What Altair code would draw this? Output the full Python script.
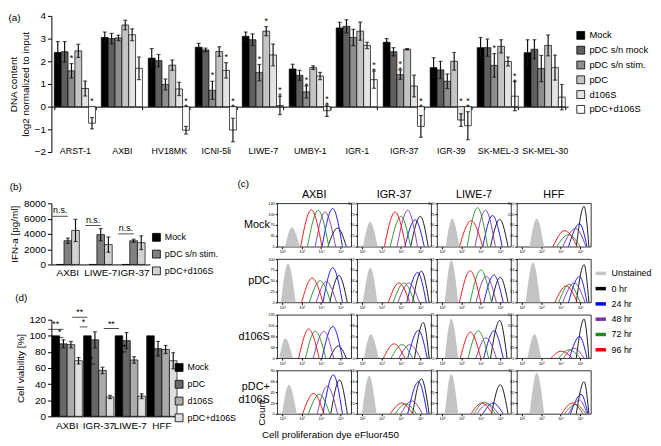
import altair as alt
import pandas as pd

FONT = "Liberation Sans"

# ---------------- panel (a) ----------------
a_groups = ["ARST-1", "AXBI", "HV18MK", "ICNI-5li", "LIWE-7", "UMBY-1",
            "IGR-1", "IGR-37", "IGR-39", "SK-MEL-3", "SK-MEL-30"]
a_series = ["Mock", "pDC s/n mock", "pDC s/n stim.", "pDC", "d106S", "pDC+d106S"]
a_colors = ["#000000", "#5f5f5f", "#8e8e8e", "#c4c4c4", "#e4e4e4", "#ffffff"]
a_values = [
    [2.39, 2.42, 1.58, 2.46, 0.80, -0.73],
    [3.05, 3.00, 3.03, 3.60, 3.17, 1.69],
    [2.14, 2.03, 0.98, 1.83, 0.78, -1.04],
    [2.62, 2.50, 0.72, 2.43, 1.60, -1.03],
    [3.10, 2.95, 1.50, 3.33, 2.28, 0.05],
    [1.66, 1.38, 0.65, 1.72, 1.35, -0.18],
    [3.47, 3.54, 3.05, 3.33, 2.70, 1.19],
    [2.84, 2.42, 1.41, 2.53, 0.91, -0.87],
    [1.72, 1.62, 1.12, 2.00, -0.59, -0.84],
    [2.60, 2.60, 1.82, 2.66, 1.99, 0.46],
    [2.38, 2.53, 1.68, 2.70, 1.72, 0.42],
]
a_errors = [
    [0.48, 0.45, 0.32, 0.29, 0.33, 0.25],
    [0.24, 0.23, 0.12, 0.21, 0.26, 0.50],
    [0.42, 0.27, 0.24, 0.23, 0.29, 0.17],
    [0.17, 0.08, 0.40, 0.21, 0.34, 0.52],
    [0.19, 0.26, 0.36, 0.20, 0.48, 0.40],
    [0.21, 0.22, 0.27, 0.08, 0.16, 0.25],
    [0.25, 0.29, 0.36, 0.40, 0.14, 0.38],
    [0.16, 0.18, 0.20, 0.03, 0.48, 0.48],
    [0.44, 0.38, 0.32, 0.39, 0.28, 0.62],
    [0.45, 0.38, 0.52, 0.29, 0.20, 0.64],
    [0.57, 0.42, 0.58, 0.46, 0.55, 0.56],
]
a_stars = [
    ["", "", "*", "", "", "*"],
    ["", "", "", "", "", ""],
    ["", "", "", "", "", "**"],
    ["", "", "*", "", "*", "**"],
    ["", "", "*", "*", "", "**"],
    ["", "", "**", "", "", "**"],
    ["", "", "", "", "", "**"],
    ["", "", "**", "", "", "**"],
    ["", "", "", "", "*", "**"],
    ["", "", "*", "", "", "**"],
    ["", "", "", "", "", ""],
]

# ---------------- panel (b) ----------------
b_groups = ["AXBI", "LIWE-7", "IGR-37"]
b_series = ["Mock", "pDC s/n stim.", "pDC+d106S"]
b_colors = ["#000000", "#808080", "#d2d2d2"]
b_values = [[0, 3100, 4450], [0, 3900, 2600], [0, 3100, 2850]]
b_errors = [[0, 350, 1450], [0, 800, 1000], [0, 200, 900]]
b_ns_y = [6300, 5100, 4000]

# ---------------- panel (d) ----------------
d_groups = ["AXBI", "IGR-37", "LIWE-7", "HFF"]
d_series = ["Mock", "pDC", "d106S", "pDC+d106S"]
d_colors = ["#000000", "#676767", "#ababab", "#dedede"]
d_values = [[100, 90, 89, 69], [100, 95, 57, 24], [100, 94, 70, 25], [100, 84, 83, 69]]
d_errors = [[0, 5, 4, 4], [0, 10, 4, 2], [0, 10, 4, 3], [0, 9, 5, 10]]
d_sig_group = ["AXBI", "AXBI", "IGR-37", "IGR-37", "IGR-37", "LIWE-7", "LIWE-7"]
d_sig_from = [1, 2, 0, 1, 2, 0, 2]
d_sig_to = [3, 3, 2, 2, 3, 2, 3]
d_sig_y = [108, 98, 123, 111, 65, 109, 80]
d_sig_label = ["**", "*", "**", "*", "*", "**", "**"]

# ---------------- panel (c) ----------------
c_cols = ["AXBI", "IGR-37", "LIWE-7", "HFF"]
c_row_titles = [["Mock"], ["pDC"], ["d106S"], ["pDC+", "d106S"]]
c_series = ["Unstained", "0 hr", "24 hr", "48 hr", "72 hr", "96 hr"]
c_colors = ["#c4c4c4", "#000000", "#0000f0", "#7d2ea8", "#1e8c1e", "#f00000"]
c_ymax = [[140, 100, 100, 160], [100, 67, 67, 85], [135, 90, 75, 140], [90, 58, 70, 110]]
# each curve: (left foot, peak, right foot, peak height as fraction of axis max), log10 units
c_curves = [
    [  # Mock
        [(2.15, 2.5, 2.9, 0.45), (4.35, 4.85, 5.3, 0.43), (4.05, 4.6, 5.1, 0.88),
         (3.7, 4.2, 4.75, 0.80), (3.3, 3.85, 4.4, 0.84), (2.95, 3.5, 4.05, 0.85)],
        [(2.05, 2.42, 2.8, 0.57), (4.5, 5.0, 5.4, 0.70), (4.2, 4.73, 5.2, 0.62),
         (3.8, 4.35, 4.85, 0.84), (3.45, 4.0, 4.5, 0.70), (3.15, 3.7, 4.25, 0.80)],
        [(2.2, 2.53, 2.9, 0.65), (4.5, 4.97, 5.4, 0.63), (4.1, 4.6, 5.1, 0.72),
         (3.7, 4.24, 4.75, 0.84), (3.3, 3.83, 4.35, 0.90), (2.9, 3.5, 4.1, 0.60)],
        [(2.4, 2.77, 3.15, 0.65), (4.8, 5.2, 5.45, 0.93), (4.4, 4.97, 5.35, 0.53),
         (4.1, 4.77, 5.3, 0.42), (3.8, 4.4, 5.0, 0.28), (3.6, 4.2, 4.85, 0.37)],
    ],
    [  # pDC
        [(1.95, 2.3, 2.7, 0.90), (4.45, 4.92, 5.35, 0.62), (4.1, 4.6, 5.1, 0.80),
         (3.75, 4.27, 4.8, 0.48), (3.4, 3.95, 4.5, 0.50), (3.0, 3.54, 4.1, 0.56)],
        [(2.05, 2.43, 2.8, 0.80), (4.6, 5.05, 5.45, 0.72), (4.3, 4.86, 5.3, 0.69),
         (3.85, 4.4, 4.95, 0.45), (3.6, 4.15, 4.7, 0.45), (3.35, 3.9, 4.45, 0.45)],
        [(2.15, 2.48, 2.85, 0.97), (4.55, 5.0, 5.4, 0.58), (4.15, 4.67, 5.15, 0.63),
         (3.75, 4.28, 4.8, 0.60), (3.45, 4.0, 4.55, 0.75), (2.9, 3.45, 4.0, 0.73)],
        [(2.2, 2.58, 2.95, 0.92), (4.8, 5.2, 5.45, 0.87), (4.4, 4.97, 5.35, 0.60),
         (4.1, 4.7, 5.25, 0.45), (3.9, 4.44, 5.0, 0.42), (3.7, 4.29, 4.85, 0.38)],
    ],
    [  # d106S
        [(1.85, 2.16, 2.55, 0.46), (4.45, 4.89, 5.3, 0.28), (4.05, 4.6, 5.1, 0.73),
         (3.6, 4.14, 4.65, 0.62), (3.2, 3.7, 4.25, 0.62), (2.85, 3.37, 3.9, 0.67)],
        [(2.1, 2.45, 2.85, 0.55), (4.7, 5.15, 5.45, 0.82), (4.35, 4.9, 5.35, 0.64),
         (3.9, 4.45, 5.0, 0.31), (3.5, 4.05, 4.6, 0.31), (3.1, 3.65, 4.2, 0.33)],
        [(2.15, 2.48, 2.85, 0.91), (4.5, 4.97, 5.35, 0.87), (4.15, 4.68, 5.15, 0.63),
         (3.75, 4.27, 4.8, 0.47), (3.35, 3.87, 4.4, 0.63), (2.95, 3.46, 4.0, 0.60)],
        [(2.3, 2.65, 3.0, 0.55), (4.8, 5.2, 5.45, 0.90), (4.45, 4.97, 5.35, 0.50),
         (4.15, 4.68, 5.2, 0.23), (3.9, 4.43, 5.0, 0.19), (3.5, 4.03, 4.6, 0.16)],
    ],
    [  # pDC+d106S
        [(2.0, 2.35, 2.75, 0.67), (4.5, 4.95, 5.35, 0.78), (4.1, 4.63, 5.1, 0.90),
         (3.8, 4.32, 4.85, 0.64), (3.35, 3.91, 4.45, 0.45), (3.05, 3.62, 4.15, 0.47)],
        [(2.0, 2.37, 2.75, 0.88), (4.6, 5.05, 5.45, 0.81), (4.35, 4.9, 5.35, 0.74),
         (4.0, 4.56, 5.1, 0.30), (3.7, 4.24, 4.8, 0.23), (3.45, 4.05, 4.6, 0.25)],
        [(2.15, 2.48, 2.85, 0.92), (4.55, 5.0, 5.4, 0.67), (4.1, 4.63, 5.15, 0.25),
         (3.8, 4.34, 4.9, 0.23), (3.65, 4.19, 4.75, 0.27), (3.5, 4.05, 4.6, 0.25)],
        [(2.4, 2.77, 3.15, 0.95), (4.8, 5.2, 5.45, 0.74), (4.5, 5.05, 5.4, 0.45),
         (4.4, 4.97, 5.35, 0.32), (4.2, 4.76, 5.3, 0.22), (4.05, 4.6, 5.15, 0.25)],
    ],
]

TXT = dict(font=FONT, color="black")

# ================= (a) =================
rows = []
for gi, g in enumerate(a_groups):
    for si, s in enumerate(a_series):
        v = a_values[gi][si]
        e = a_errors[gi][si]
        rows.append(dict(group=g, series=s, value=v, lo=v - e, hi=v + e,
                         star="\n".join(a_stars[gi][si]), stary=max(v + e, 0.0)))
dfA = pd.DataFrame(rows)

AW, AH = 524, 138
YA = [-2, 4]
z_up = AH * (0 - YA[0]) / (YA[1] - YA[0])

xA = alt.X("group:N", sort=a_groups, title=None,
           scale=alt.Scale(paddingInner=0.125, paddingOuter=0.0625),
           axis=alt.Axis(labelAngle=0, labelFontSize=9, labelOverlap=False,
                         tickBand="extent", tickSize=3, offset=-z_up,
                         labelPadding=z_up - 9))
oA = alt.XOffset("series:N", sort=a_series,
                 scale=alt.Scale(domain=a_series, paddingInner=0, paddingOuter=0))


def yA(field):
    return alt.Y(field, type="quantitative", scale=alt.Scale(domain=YA, nice=False),
                 axis=alt.Axis(values=list(range(-2, 5)),
                               title=["DNA content", "log2 normalized to input"],
                               labelFontSize=10, titleFontSize=10, tickSize=4,
                               titlePadding=4, labelPadding=2))


baseA = alt.Chart(dfA)
barsA = baseA.mark_bar(stroke="black", strokeWidth=0.7).encode(
    x=xA, xOffset=oA, y=yA("value"),
    color=alt.Color("series:N", sort=a_series,
                    scale=alt.Scale(domain=a_series, range=a_colors),
                    legend=alt.Legend(orient="none", legendX=AW + 8, legendY=15, title=None,
                                      symbolType="square", symbolSize=64,
                                      symbolStrokeColor="black", symbolStrokeWidth=0.8,
                                      labelFontSize=9.5, rowPadding=3)))
errA = baseA.mark_rule(strokeWidth=1.2, color="#111111").encode(
    x=xA, xOffset=oA, y=yA("lo"), y2="hi:Q")
capA1 = baseA.mark_tick(orient="horizontal", size=4, thickness=1.2, color="#111111").encode(
    x=xA, xOffset=oA, y=yA("hi"))
capA2 = baseA.mark_tick(orient="horizontal", size=4, thickness=1.2, color="#111111").encode(
    x=xA, xOffset=oA, y=yA("lo"))
starA = baseA.transform_filter("datum.star != ''").mark_text(
    lineBreak="\n", lineHeight=6, baseline="bottom", dy=-1, fontSize=9, **TXT).encode(
    x=xA, xOffset=oA, y=yA("stary"), text="star:N")

A = alt.layer(barsA, errA, capA1, capA2, starA).properties(
    width=AW, height=AH,
    title=alt.TitleParams("(a)", anchor="start", fontSize=10, fontWeight="normal",
                          offset=-12))

# ================= (b) =================
rows = []
for gi, g in enumerate(b_groups):
    for si, s in enumerate(b_series):
        v = b_values[gi][si]
        e = b_errors[gi][si]
        rows.append(dict(group=g, series=s, value=v, lo=v - e, hi=v + e, err=e))
dfB = pd.DataFrame(rows)
dfBns = pd.DataFrame(dict(group=b_groups, y=b_ns_y, label=["n.s."] * len(b_groups)))

BW, BH = 100, 62
B_pin, B_pout = 0.3, 0.15
B_step = BW / (len(b_groups) - B_pin + 2 * B_pout)
B_bw = B_step * (1 - B_pin) / len(b_series)

xB = alt.X("group:N", sort=b_groups, title=None,
           scale=alt.Scale(paddingInner=B_pin, paddingOuter=B_pout),
           axis=alt.Axis(labelAngle=0, labelFontSize=10, ticks=False, labelPadding=3))
oB = alt.XOffset("series:N", sort=b_series,
                 scale=alt.Scale(domain=b_series, paddingInner=0, paddingOuter=0))


def yB(field):
    return alt.Y(field, type="quantitative", scale=alt.Scale(domain=[0, 8000], nice=False),
                 axis=alt.Axis(values=[0, 2000, 4000, 6000, 8000], format="d",
                               labelOverlap=False, title="IFN-a [pg/ml]",
                               labelFontSize=10, titleFontSize=10, tickSize=4,
                               titlePadding=4, labelPadding=2))


baseB = alt.Chart(dfB)
barsB = baseB.mark_bar(stroke="black", strokeWidth=0.7).encode(
    x=xB, xOffset=oB, y=yB("value"),
    color=alt.Color("series:N", sort=b_series,
                    scale=alt.Scale(domain=b_series, range=b_colors),
                    legend=alt.Legend(orient="none", legendX=BW + 2, legendY=30, title=None,
                                      symbolType="square", symbolSize=64,
                                      symbolStrokeColor="black", symbolStrokeWidth=0.8,
                                      labelFontSize=9, rowPadding=4)))
errB = baseB.transform_filter("datum.err > 0").mark_rule(strokeWidth=1.2, color="#111111").encode(
    x=xB, xOffset=oB, y=yB("lo"), y2="hi:Q")
capB1 = baseB.transform_filter("datum.err > 0").mark_tick(
    orient="horizontal", size=4, thickness=1.2, color="#111111").encode(x=xB, xOffset=oB, y=yB("hi"))
capB2 = baseB.transform_filter("datum.err > 0").mark_tick(
    orient="horizontal", size=4, thickness=1.2, color="#111111").encode(x=xB, xOffset=oB, y=yB("lo"))
nsLine = alt.Chart(dfBns).mark_tick(orient="horizontal", thickness=1, color="black",
                                    size=2 * B_bw).encode(
    x=xB, xOffset=alt.value(0.5 * B_bw), y=yB("y"))
nsText = alt.Chart(dfBns).mark_text(baseline="bottom", dy=-1, fontSize=9, **TXT).encode(
    x=xB, xOffset=alt.value(0.5 * B_bw), y=yB("y"), text="label:N")

B = alt.layer(barsB, errB, capB1, capB2, nsLine, nsText).resolve_scale(
    xOffset="independent").properties(
    width=BW, height=BH,
    title=alt.TitleParams("(b)", anchor="start", fontSize=10, fontWeight="normal", offset=7))

# ================= (d) =================
rows = []
for gi, g in enumerate(d_groups):
    for si, s in enumerate(d_series):
        v = d_values[gi][si]
        e = d_errors[gi][si]
        rows.append(dict(group=g, series=s, value=v, lo=v - e, hi=v + e, err=e))
dfD = pd.DataFrame(rows)

DW, DH = 128, 98
D_pin, D_pout = 0.04, 0.02
D_step = DW / (len(d_groups) - D_pin + 2 * D_pout)
D_bw = D_step * (1 - D_pin) / len(d_series)
dfDs = pd.DataFrame(dict(
    group=d_sig_group, y=d_sig_y, label=d_sig_label,
    off=[((f + t) / 2 + 0.5 - len(d_series) / 2) * D_bw for f, t in zip(d_sig_from, d_sig_to)],
    w=[(t - f) * D_bw for f, t in zip(d_sig_from, d_sig_to)],
))

xD = alt.X("group:N", sort=d_groups, title=None,
           scale=alt.Scale(paddingInner=D_pin, paddingOuter=D_pout),
           axis=alt.Axis(labelAngle=0, labelFontSize=10, ticks=False, labelPadding=4))
oD = alt.XOffset("series:N", sort=d_series,
                 scale=alt.Scale(domain=d_series, paddingInner=0, paddingOuter=0))


def yD(field):
    return alt.Y(field, type="quantitative", scale=alt.Scale(domain=[0, 120], nice=False),
                 axis=alt.Axis(values=[0, 20, 40, 60, 80, 100, 120], title="Cell viability [%]",
                               labelOverlap=False,
                               labelFontSize=10, titleFontSize=10, tickSize=4,
                               titlePadding=4, labelPadding=2))


baseD = alt.Chart(dfD)
barsD = baseD.mark_bar(stroke="black", strokeWidth=0.7).encode(
    x=xD, xOffset=oD, y=yD("value"),
    color=alt.Color("series:N", sort=d_series,
                    scale=alt.Scale(domain=d_series, range=d_colors),
                    legend=alt.Legend(orient="none", legendX=DW - 3, legendY=44, title=None,
                                      symbolType="square", symbolSize=64,
                                      symbolStrokeColor="black", symbolStrokeWidth=0.8,
                                      labelFontSize=9, rowPadding=4)))
errD = baseD.transform_filter("datum.err > 0").mark_rule(strokeWidth=1.2, color="#111111").encode(
    x=xD, xOffset=oD, y=yD("lo"), y2="hi:Q")
capD1 = baseD.transform_filter("datum.err > 0").mark_tick(
    orient="horizontal", size=4, thickness=1.2, color="#111111").encode(x=xD, xOffset=oD, y=yD("hi"))
capD2 = baseD.transform_filter("datum.err > 0").mark_tick(
    orient="horizontal", size=4, thickness=1.2, color="#111111").encode(x=xD, xOffset=oD, y=yD("lo"))
sigLine = alt.Chart(dfDs).mark_tick(orient="horizontal", thickness=1, color="black").encode(
    x=xD, xOffset=alt.XOffset("off:Q", scale=None), y=yD("y"),
    size=alt.Size("w:Q", scale=None, legend=None))
sigText = alt.Chart(dfDs).mark_text(baseline="bottom", dy=0, fontSize=9, **TXT).encode(
    x=xD, xOffset=alt.XOffset("off:Q", scale=None), y=yD("y"), text="label:N")

D = alt.layer(barsD, errD, capD1, capD2, sigLine, sigText).resolve_scale(
    xOffset="independent").properties(
    width=DW, height=DH,
    title=alt.TitleParams("(d)", anchor="start", fontSize=10, fontWeight="normal", offset=5))

# ================= (c) =================
PW, PH = 75, 44
SUP = "['10\u00b2','10\u00b3','10\u2074','10\u2075'][datum.value - 2]"


def panel(ri, ci):
    pts = []
    for si, (l, p, r, h) in enumerate(c_curves[ri][ci]):
        for k, (xx, yy) in enumerate([(l, 0.0), (p, h), (r, 0.0)]):
            pts.append(dict(series=c_series[si], x=xx, y=yy, o=k))
    df = pd.DataFrame(pts)
    xt = None
    if ri == 3 and ci == 0:
        xt = "Cell proliferation dye eFluor450"
    x = alt.X("x:Q", scale=alt.Scale(domain=[1.75, 5.55], nice=False, zero=False),
              axis=alt.Axis(values=[2, 3, 4, 5], labelExpr=SUP, labelFontSize=4,
                            tickSize=2, labelPadding=1, domain=False, grid=False,
                            title=xt, titleFontSize=10, titleAnchor="start",
                            titleAlign="left", titleX=-16, titleY=21,
                            titleBaseline="middle"))
    ym = c_ymax[ri][ci]
    y = alt.Y("y:Q", scale=alt.Scale(domain=[0, 1], nice=False),
              axis=alt.Axis(values=[0, 0.25, 0.5, 0.75, 1],
                            labelExpr=f"format(datum.value * {ym}, 'd')",
                            labelFontSize=4, tickSize=2, labelPadding=1, domain=False,
                            grid=False,
                            title=c_row_titles[ri] if ci == 0 else None,
                            titleAngle=0, titleAlign="right", titleBaseline="middle",
                            titleFontSize=11, titleX=-8,
                            titleY=PH / 2 - (6 if len(c_row_titles[ri]) > 1 else 0)))
    if ri == 0 and ci == 3:
        leg = alt.Legend(orient="none", legendX=PW + 3, legendY=64, title=None,
                         symbolType="stroke", symbolStrokeWidth=3.5, symbolSize=110,
                         labelFontSize=9, rowPadding=1.5)
    else:
        leg = None
    col = alt.Color("series:N", sort=c_series,
                    scale=alt.Scale(domain=c_series, range=c_colors), legend=leg)
    base = alt.Chart(df)
    area = base.transform_filter("datum.series == 'Unstained'").mark_area(
        interpolate="monotone", color="#c4c4c4", clip=True).encode(
        x=x, y=y, order="o:Q")
    lines = base.transform_filter("datum.series != 'Unstained'").mark_line(
        interpolate="monotone", strokeWidth=0.9, clip=True).encode(
        x=x, y=y, color=col, order="o:Q")
    layers = [area, lines]
    if ri == 3 and ci == 0:
        layers.append(alt.Chart(df).transform_filter("datum.o == 0 && datum.series == 'Unstained'")
                      .mark_text(angle=270, align="left", baseline="middle", fontSize=10, **TXT)
                      .encode(x=alt.value(-15), y=alt.value(PH + 12), text=alt.value("Count")))
    props = dict(width=PW, height=PH,
                 view=alt.ViewBackground(stroke="black", strokeWidth=0.8))
    if ri == 0:
        props["title"] = alt.TitleParams(c_cols[ci], fontSize=11, fontWeight="normal", offset=1)
    return alt.layer(*layers).properties(**props)


C = alt.concat(*[panel(ri, ci) for ri in range(4) for ci in range(4)], columns=4,
               spacing={"row": 12.5, "column": 6}, bounds="flush",
               title=alt.TitleParams("(c)", anchor="start", fontSize=10, fontWeight="normal",
                                     offset=0)).resolve_scale(color="independent")

left = alt.vconcat(B, D, spacing=56, bounds="flush").resolve_scale(
    color="independent", xOffset="independent")
bottom = alt.hconcat(left, C, spacing=0).resolve_scale(
    color="independent", xOffset="independent")

chart = alt.vconcat(A, bottom, spacing=22).resolve_scale(
    color="independent", xOffset="independent").properties(
    padding={"left": 0, "top": 0, "right": 0, "bottom": 0}).configure(
    font=FONT, padding={"left": 0, "top": 0, "right": 0, "bottom": 0}).configure_view(
    stroke=None).configure_axis(
    labelFont=FONT, titleFont=FONT, grid=False, domainColor="black", tickColor="black",
    labelColor="black", titleColor="black", titleFontWeight="normal").configure_legend(
    labelFont=FONT, labelColor="black").configure_title(font=FONT, color="black")

chart.save("out.html", embed_options={"renderer": "svg", "actions": False})
